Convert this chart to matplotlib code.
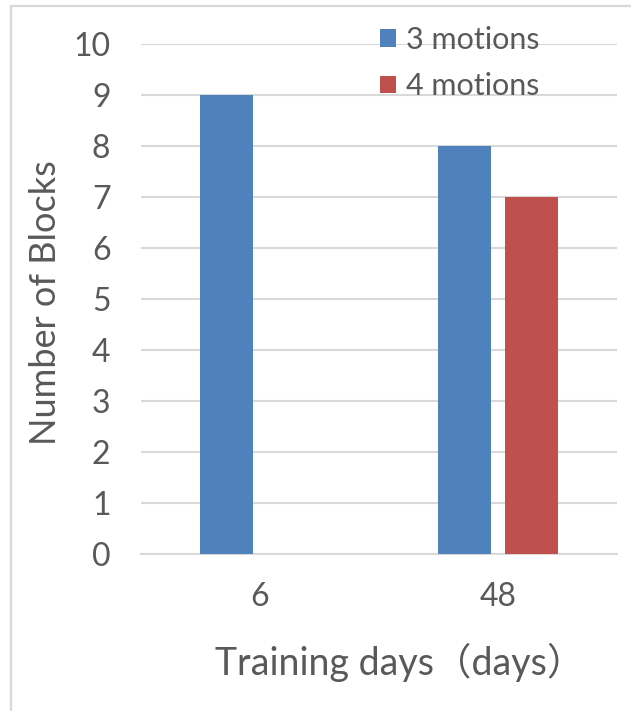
import matplotlib
matplotlib.use("Agg")
import matplotlib.pyplot as plt
import numpy as np
from matplotlib.patches import Patch
from matplotlib.lines import Line2D

# Data
categories = ["6", "48"]
series_names = ["3 motions", "4 motions"]
blocks_3_motions = [9, 8]
blocks_4_motions = [0, 7]
y_ticks = list(range(0, 11))

BLUE = "#4F81BD"
RED = "#C0504D"
GRID = "#D9D9D9"
TEXT = "#595959"

plt.rcParams["font.family"] = ["Lato", "Noto Sans CJK SC", "DejaVu Sans"]

W, H = 631, 711
fig = plt.figure(figsize=(W / 100, H / 100), dpi=100)
fig.patch.set_facecolor("white")

# outer chart frame (left and top edges)
fig.add_artist(Line2D([11 / W, 11 / W], [0, 1 - 6 / H], color=GRID, lw=1.6,
                      transform=fig.transFigure))
fig.add_artist(Line2D([11 / W, 1], [1 - 6 / H, 1 - 6 / H], color=GRID, lw=1.6,
                      transform=fig.transFigure))

ax = fig.add_axes([141 / W, 1 - 554 / H, (617 - 141) / W, (554 - 44) / H])

x = np.arange(len(categories))
bar_w = 0.2235
offset = 0.141
ax.bar(x - offset, blocks_3_motions, width=bar_w, color=BLUE, zorder=3)
ax.bar(x + offset, blocks_4_motions, width=bar_w, color=RED, zorder=3)

ax.set_xlim(-0.5, 1.5)
ax.set_ylim(0, 10)
ax.set_yticks(y_ticks)
ax.set_xticks(x)
ax.set_xticklabels(categories)

ax.grid(axis="y", color=GRID, lw=1.5, zorder=0)
ax.set_axisbelow(True)
for side in ["left", "right", "top"]:
    ax.spines[side].set_visible(False)
ax.spines["bottom"].set_color(GRID)
ax.spines["bottom"].set_linewidth(1.5)

ax.tick_params(axis="both", length=0, labelsize=23, labelcolor=TEXT)
ax.tick_params(axis="y", pad=22)
ax.tick_params(axis="x", pad=20)

fig.text(45.5 / W, 1 - 303 / H, "Number of Blocks", rotation=90,
         ha="center", va="center", fontsize=26, color=TEXT)
fig.text(400 / W, 1 - 675 / H, "Training days（days）", ha="center",
         va="baseline", fontsize=27, color=TEXT,
         family=["Lato", "Noto Sans CJK SC"])

handles = [Patch(facecolor=BLUE), Patch(facecolor=RED)]
ax.legend(handles, series_names, loc="upper left",
          bbox_to_anchor=(380 / W, 1 - 26 / H), bbox_transform=fig.transFigure,
          frameon=False, fontsize=22, labelcolor=TEXT,
          handlelength=0.52, handleheight=0.52, handletextpad=0.32,
          labelspacing=0.6, borderpad=0, borderaxespad=0)

fig.savefig("out.png", dpi=100, facecolor="white")
